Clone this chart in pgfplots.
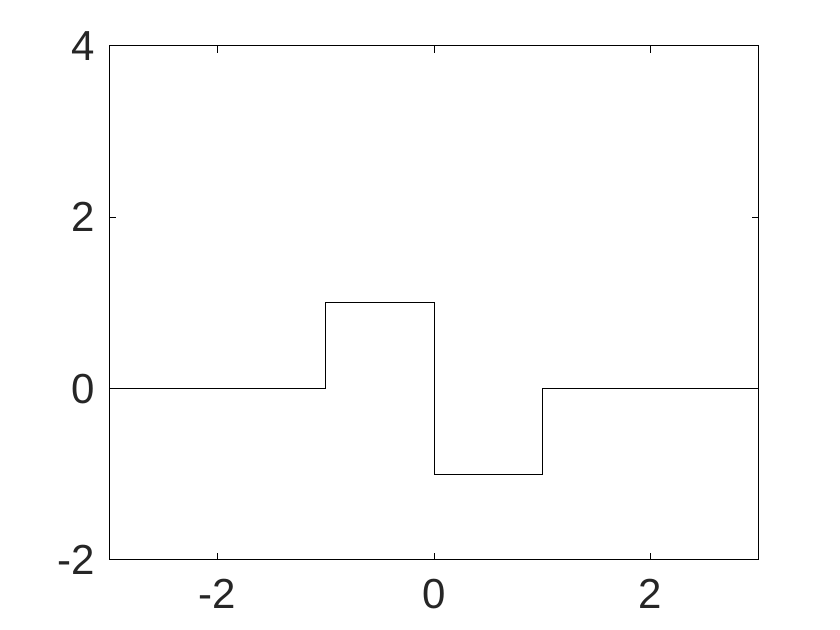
\documentclass[border=0pt]{standalone}
\usepackage{fontspec}
\setmainfont{Liberation Sans}
\usepackage{pgfplots}
\pgfplotsset{compat=1.18}
\definecolor{ticktxt}{HTML}{262626}
\begin{document}
\begin{tikzpicture}
\path[use as bounding box] (0,0) rectangle (420pt,315pt);
\begin{axis}[
  at={(54.5pt,35pt)}, anchor=south west,
  scale only axis, width=325pt, height=257pt,
  xmin=-3, xmax=3, ymin=-2, ymax=4,
  xtick={-2,0,2}, ytick={-2,0,2,4},
  tick align=inside, major tick length=3.5pt,
  axis line style={line width=0.5pt},
  every tick/.style={line width=0.5pt, black},
  tick label style={font=\fontsize{21}{25}\selectfont, text=ticktxt},
  /pgf/number format/assume math mode=true,
  xticklabel style={yshift=-6pt},
  yticklabel style={xshift=-3.5pt},
]
\addplot[const plot, black, line width=0.5pt] coordinates {
  (-3,0) (-1,1) (0,-1) (1,0) (3,0)
};
\end{axis}
\end{tikzpicture}
\end{document}
